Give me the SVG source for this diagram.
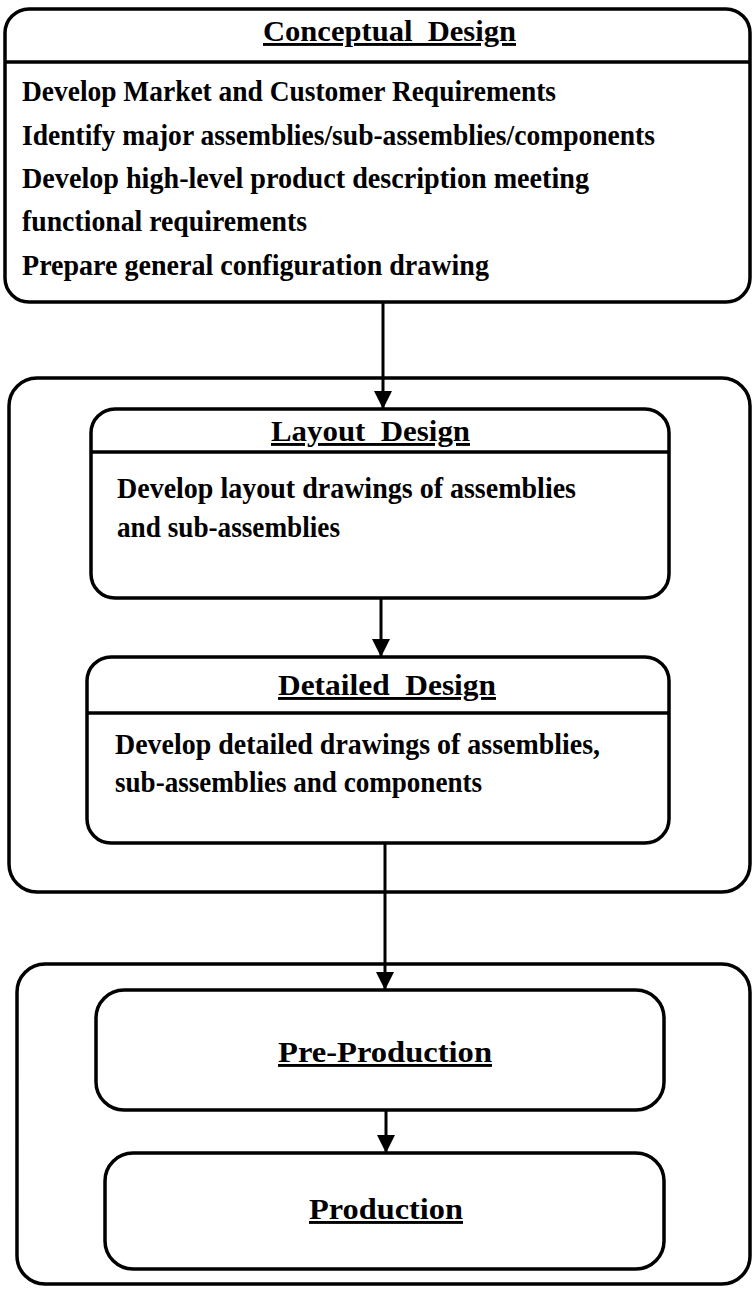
<svg xmlns="http://www.w3.org/2000/svg" width="752" height="1290" viewBox="0 0 752 1290">
<style>
.box{fill:none;stroke:#000;stroke-width:3.5}
.div{stroke:#000;stroke-width:3.5}
.t{font-family:"Liberation Serif","Times New Roman",serif;font-weight:bold;font-size:29px;fill:#000}
.h{font-family:"Liberation Serif","Times New Roman",serif;font-weight:bold;font-size:29px;fill:#000;text-decoration:underline}
.c{stroke:#000;stroke-width:3;fill:none}
</style>
<defs>
<marker id="ah" viewBox="0 0 18 18" refX="18" refY="9" markerWidth="18" markerHeight="18" markerUnits="userSpaceOnUse" orient="auto">
<path d="M0,0 L18,9 L0,18 Z" fill="#000"/>
</marker>
</defs>
<rect width="752" height="1290" fill="#fff"/>
<g id="conceptual">
<rect class="box" x="5" y="9" width="745" height="293" rx="24"/>
<line class="div" x1="5" y1="62" x2="750" y2="62"/>
<text class="h" x="263" y="41" textLength="253" lengthAdjust="spacingAndGlyphs">Conceptual&#160;&#160;Design</text>
<text class="t" x="22" y="101" textLength="534" lengthAdjust="spacingAndGlyphs">Develop Market and Customer Requirements</text>
<text class="t" x="22" y="145" textLength="633" lengthAdjust="spacingAndGlyphs">Identify major assemblies/sub-assemblies/components</text>
<text class="t" x="22" y="188" textLength="567" lengthAdjust="spacingAndGlyphs">Develop high-level product description meeting</text>
<text class="t" x="22" y="231" textLength="285" lengthAdjust="spacingAndGlyphs">functional requirements</text>
<text class="t" x="22" y="275" textLength="467" lengthAdjust="spacingAndGlyphs">Prepare general configuration drawing</text>
</g>
<g id="design-group">
<rect class="box" x="9" y="378" width="741" height="514" rx="28"/>
</g>
<g id="layout">
<rect class="box" x="91" y="409" width="578" height="189" rx="24"/>
<line class="div" x1="91" y1="452" x2="669" y2="452"/>
<text class="h" x="271" y="441" textLength="199" lengthAdjust="spacingAndGlyphs">Layout&#160;&#160;Design</text>
<text class="t" x="117" y="498" textLength="459" lengthAdjust="spacingAndGlyphs">Develop layout drawings of assemblies</text>
<text class="t" x="117" y="537" textLength="223" lengthAdjust="spacingAndGlyphs">and sub-assemblies</text>
</g>
<g id="detailed">
<rect class="box" x="87" y="657" width="582" height="186" rx="24"/>
<line class="div" x1="87" y1="713" x2="669" y2="713"/>
<text class="h" x="278" y="695" textLength="218" lengthAdjust="spacingAndGlyphs">Detailed&#160;&#160;Design</text>
<text class="t" x="115" y="754" textLength="485" lengthAdjust="spacingAndGlyphs">Develop detailed drawings of assemblies,</text>
<text class="t" x="115" y="792" textLength="367" lengthAdjust="spacingAndGlyphs">sub-assemblies and components</text>
</g>
<g id="production-group">
<rect class="box" x="17" y="964" width="733" height="320" rx="28"/>
</g>
<g id="pre-production">
<rect class="box" x="96" y="990" width="568" height="120" rx="28"/>
<text class="h" x="278" y="1062" textLength="214" lengthAdjust="spacingAndGlyphs">Pre-Production</text>
</g>
<g id="production">
<rect class="box" x="105" y="1153" width="559" height="116" rx="28"/>
<text class="h" x="309" y="1219" textLength="154" lengthAdjust="spacingAndGlyphs">Production</text>
</g>
<g id="connectors">
<line class="c" x1="383" y1="302" x2="383" y2="409" marker-end="url(#ah)"/>
<line class="c" x1="381" y1="598" x2="381" y2="657" marker-end="url(#ah)"/>
<line class="c" x1="385" y1="843" x2="385" y2="990" marker-end="url(#ah)"/>
<line class="c" x1="386" y1="1110" x2="386" y2="1153" marker-end="url(#ah)"/>
</g>
</svg>
